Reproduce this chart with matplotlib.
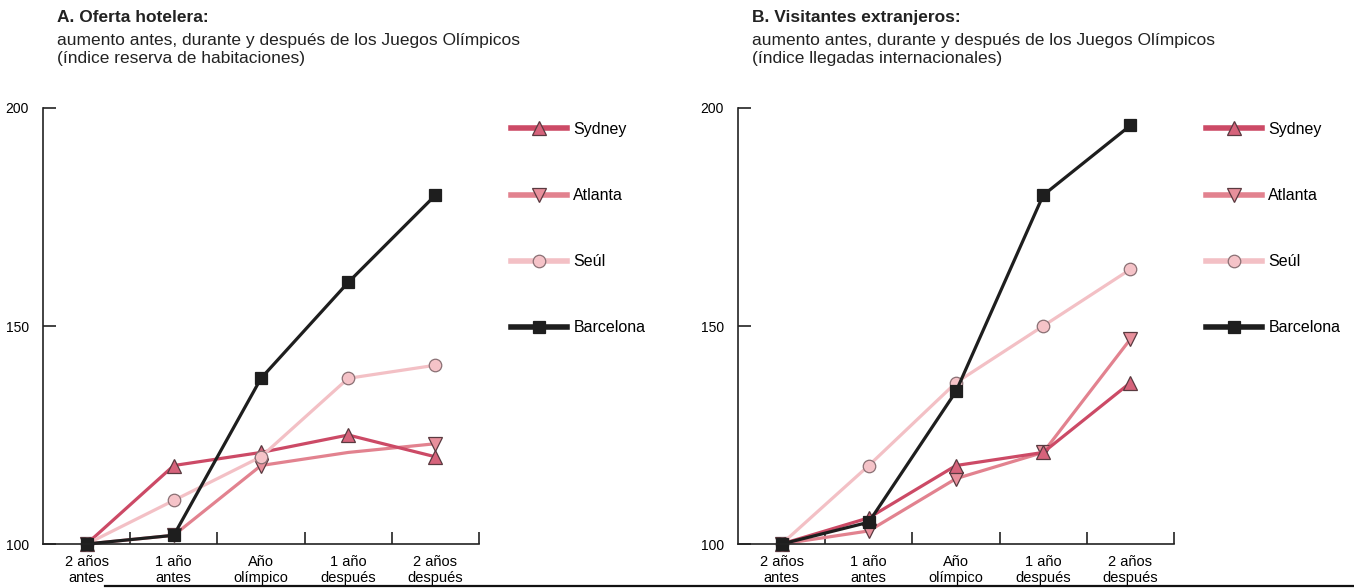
import matplotlib
matplotlib.use('Agg')
import matplotlib.pyplot as plt
from matplotlib.lines import Line2D

plt.rcParams['font.family'] = ['Liberation Sans', 'DejaVu Sans']

# ─── data ────────────────────────────────────────────────────────
categories = ['2 años\nantes', '1 año\nantes', 'Año\nolímpico',
              '1 año\ndespués', '2 años\ndespués']
cities = ['Sydney', 'Atlanta', 'Seúl', 'Barcelona']

# A. hotel supply (room booking index)
hotel_sydney    = [100, 118, 121, 125, 120]
hotel_atlanta   = [100, 102, 118, 121, 123]
hotel_seul      = [100, 110, 120, 138, 141]
hotel_barcelona = [100, 102, 138, 160, 180]

# B. foreign visitors (international arrivals index)
visit_sydney    = [100, 106, 118, 121, 137]
visit_atlanta   = [100, 103, 115, 121, 147]
visit_seul      = [100, 118, 137, 150, 163]
visit_barcelona = [100, 105, 135, 180, 196]

y_ticks = [100, 150, 200]

titles = ['A. Oferta hotelera:', 'B. Visitantes extranjeros:']
subtitles = ['aumento antes, durante y después de los Juegos Olímpicos\n'
             '(índice reserva de habitaciones)',
             'aumento antes, durante y después de los Juegos Olímpicos\n'
             '(índice llegadas internacionales)']

# ─── styles ──────────────────────────────────────────────────────
style = {
    'Sydney':    dict(color='#cc4a66', marker='^', mfc='#d6637b',
                      mec='#5a3a40', ms=10),
    'Atlanta':   dict(color='#e2828f', marker='v', mfc='#e8909c',
                      mec='#5a3a40', ms=10),
    'Seúl':      dict(color='#f3c0c5', marker='o', mfc='#f5c3c8',
                      mec='#8a7074', ms=9),
    'Barcelona': dict(color='#1e1e1e', marker='s', mfc='#1e1e1e',
                      mec='#1e1e1e', ms=8),
}
draw_order = ['Atlanta', 'Sydney', 'Seúl', 'Barcelona']

W, H = 1354, 588
fig = plt.figure(figsize=(W / 100, H / 100), dpi=100)

panels = [
    (43, {'Sydney': hotel_sydney, 'Atlanta': hotel_atlanta,
          'Seúl': hotel_seul, 'Barcelona': hotel_barcelona},
     {'Atlanta': [0, 1, 2, 4]}),
    (738, {'Sydney': visit_sydney, 'Atlanta': visit_atlanta,
           'Seúl': visit_seul, 'Barcelona': visit_barcelona},
     {}),
]

x = list(range(len(categories)))

for p, (left, series, mevery) in enumerate(panels):
    ax = fig.add_axes([left / W, 1 - 544 / H, 436 / W, 436 / H])
    for city in draw_order:
        s = style[city]
        ax.plot(x, series[city], color=s['color'], lw=2.3,
                marker=s['marker'], markerfacecolor=s['mfc'],
                markeredgecolor=s['mec'], markeredgewidth=0.9,
                markersize=s['ms'], clip_on=False,
                markevery=mevery.get(city))
    ax.set_xlim(-0.5, len(categories) - 0.5)
    ax.set_ylim(100, 200)
    ax.set_yticks(y_ticks)
    ax.set_xticks(x)
    ax.set_xticklabels(categories, fontsize=10.5, linespacing=1.2)
    ax.set_xticks([i + 0.5 for i in x], minor=True)
    ax.tick_params(axis='x', which='major', length=0, pad=8)
    ax.tick_params(axis='x', which='minor', direction='in', length=9,
                   width=1.2, color='#222222')
    ax.tick_params(axis='y', direction='in', length=9, width=1.2,
                   labelsize=10, pad=10, color='#222222')
    for side in ('top', 'right'):
        ax.spines[side].set_visible(False)
    for side in ('left', 'bottom'):
        ax.spines[side].set_linewidth(1.2)
        ax.spines[side].set_color('#222222')

    tx = (left + 14) / W
    fig.text(tx, 1 - 10 / H, titles[p], fontsize=12.5, fontweight='bold',
             va='top', color='#222222')
    fig.text(tx, 1 - 33 / H, subtitles[p], fontsize=12.5, va='top',
             linespacing=1.22, color='#222222')

    handles = []
    for city in cities:
        s = style[city]
        handles.append(Line2D([], [], color=s['color'], lw=4,
                              marker=s['marker'], markerfacecolor=s['mfc'],
                              markeredgecolor=s['mec'], markeredgewidth=0.9,
                              markersize=s['ms']))
    fig.legend(handles, cities, loc='upper left',
               bbox_to_anchor=((left + 468) / W, 1 - 122 / H),
               bbox_transform=fig.transFigure, frameon=False,
               fontsize=11.5, handlelength=3.5, handletextpad=0.4,
               labelspacing=3.2, borderaxespad=0, borderpad=0)

# page rule at the bottom
fig.add_artist(Line2D([105 / W, 1.0], [1 - 586 / H, 1 - 586 / H],
                      transform=fig.transFigure, color='#111111', lw=1.6))

fig.savefig('out.png', dpi=100)
